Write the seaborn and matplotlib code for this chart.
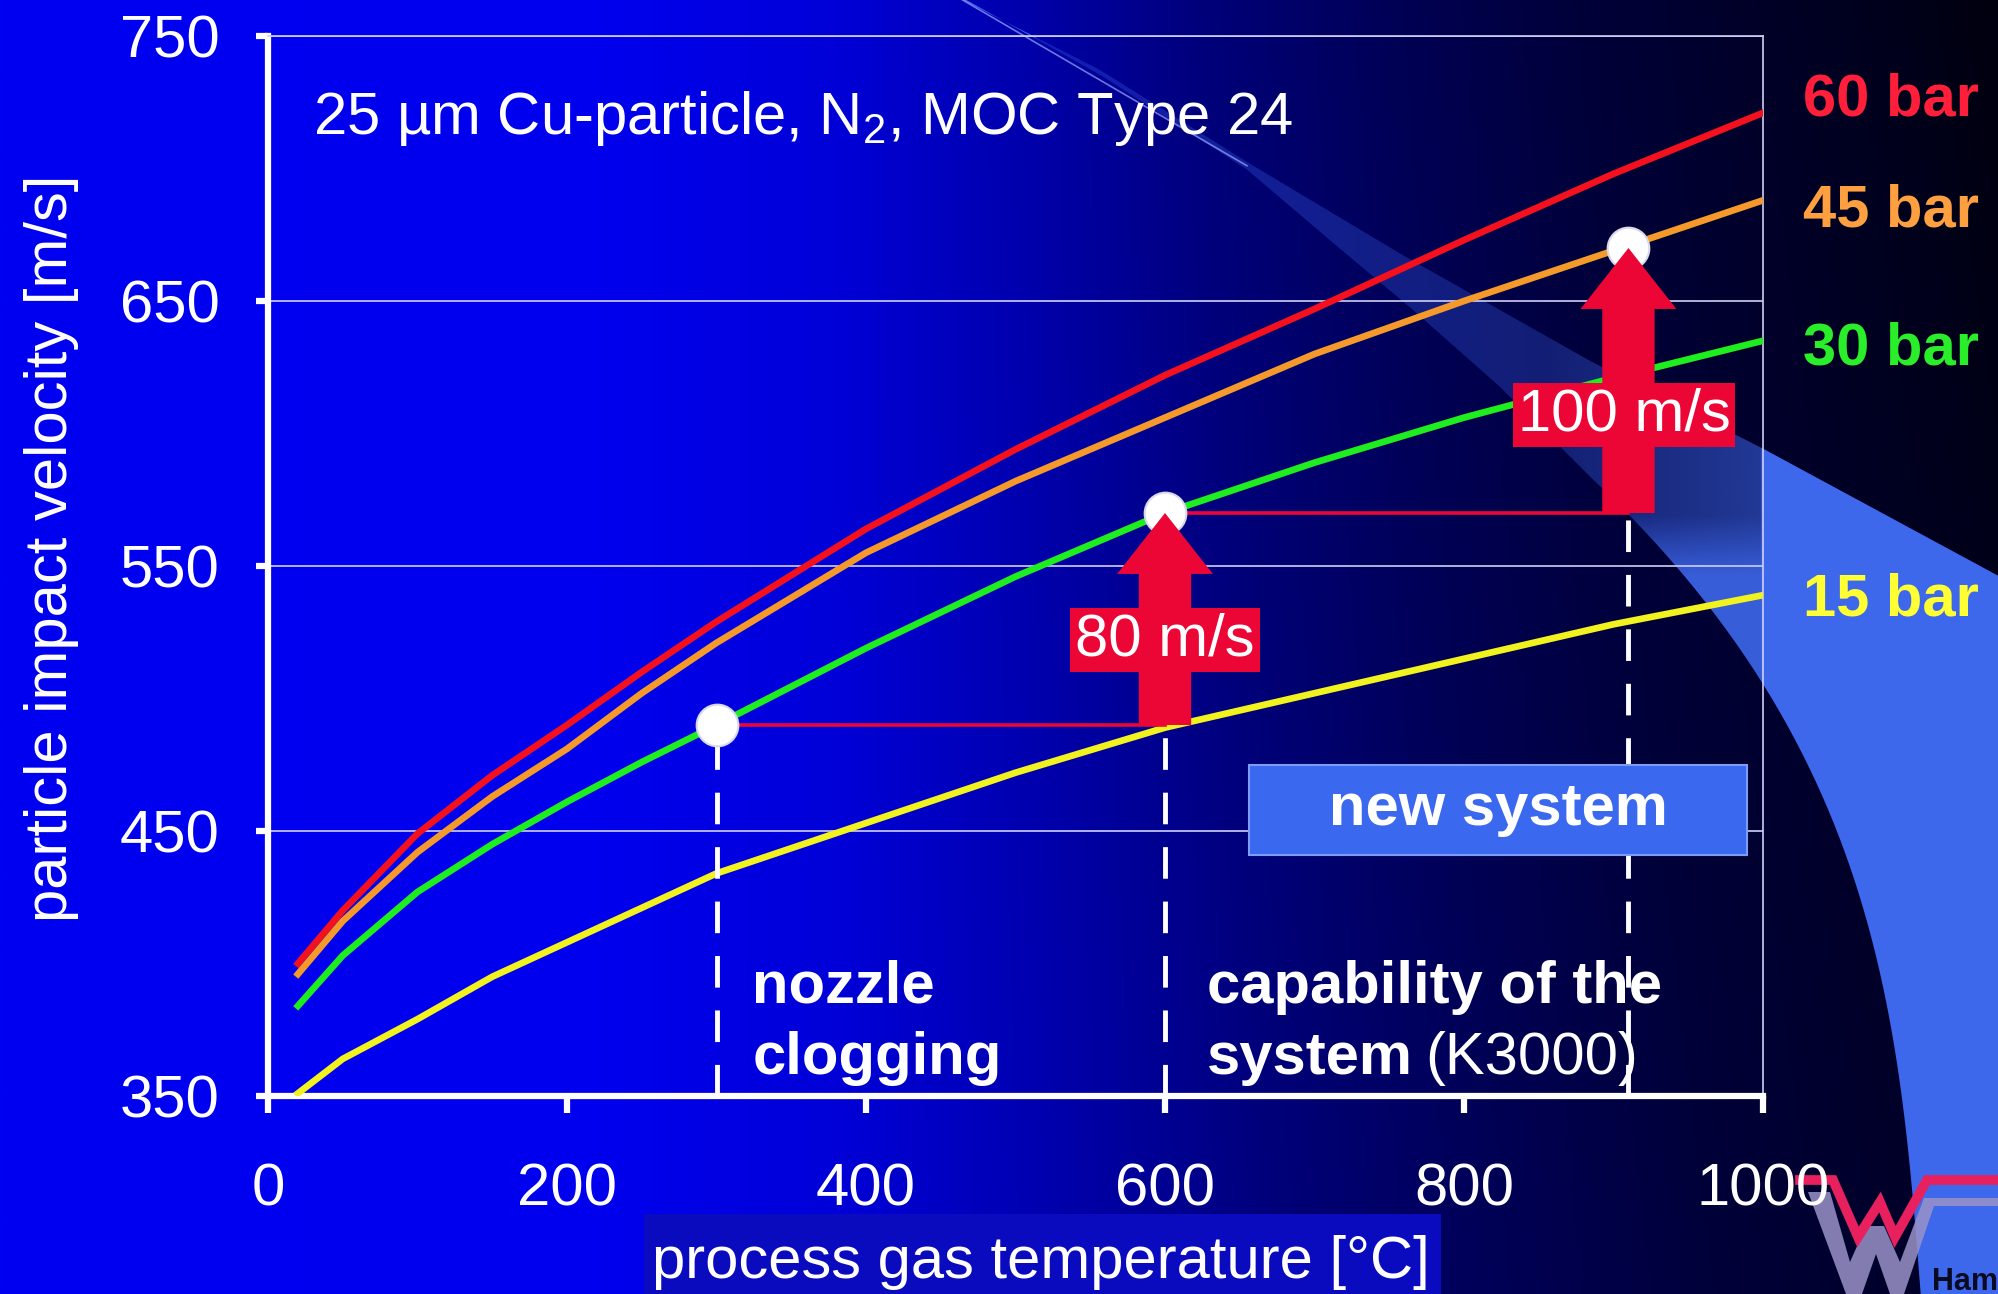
import numpy as np
import pandas as pd
import matplotlib
matplotlib.use("Agg")
import matplotlib.pyplot as plt
import seaborn as sns
from matplotlib.patches import Polygon, Rectangle, FancyArrow

# ---------------------------------------------------------------- data
temperature = [20, 50, 100, 150, 200, 250, 300, 400, 500, 600, 700, 800, 900, 1000]
v_60bar = [400, 420, 449, 471, 490, 510, 529, 564, 594, 622, 647, 673, 698, 721]
v_45bar = [396, 416, 442, 463, 481, 502, 521, 555, 582, 606, 630, 650, 669, 688]
v_30bar = [384, 403, 427, 445, 461, 476, 490, 519, 546, 570, 589, 606, 621, 635]
v_15bar = [351, 364, 379, 395, 408, 421, 434, 453, 472, 489, 502, 515, 528, 539]

pressure_labels = ["60 bar", "45 bar", "30 bar", "15 bar"]
line_colors = ["#F5101E", "#F59A2A", "#1EEE1E", "#F2F21E"]
label_colors = ["#FF1F3A", "#FFA040", "#2AEE2A", "#FFFF33"]

# operating points: nozzle clogging limit, K3000 capability, new system
op_temps = [300, 600, 910]
op_velocity = [490, 570, 670]

x_ticks = [0, 200, 400, 600, 800, 1000]
y_ticks = [350, 450, 550, 650, 750]

# ---------------------------------------------------------------- style
plt.rcParams["font.family"] = ["Liberation Sans", "DejaVu Sans"]
plt.rcParams["mathtext.default"] = "regular"
FS = 43
CRIMSON = "#EC0636"

W, H = 1999, 1294
fig = plt.figure(figsize=(W / 100, H / 100), dpi=100)

# ---------------------------------------------------------------- slide background
bg = fig.add_axes([0, 0, 1, 1], zorder=0)
bg.set_xlim(0, W)
bg.set_ylim(H, 0)
bg.axis("off")

gx = np.linspace(0, 1, 500)
gy = np.linspace(0, 1, 330)
U, V = np.meshgrid(gx, gy)
u_eff = U + 0.10 * (0.5 - V) * np.clip((U - 0.4) / 0.6, 0, 1)
blue = np.interp(u_eff, [0, 0.30, 0.42, 0.52, 0.62, 0.72, 0.82, 0.92, 1.0, 1.06],
                 [242, 238, 215, 172, 122, 86, 58, 40, 26, 12]) / 255
grad = np.dstack([np.zeros_like(blue), np.zeros_like(blue), blue])
bg.imshow(grad, extent=[0, W, H, 0], aspect="auto", zorder=0, interpolation="bilinear")

# light-blue swoosh across the right side (outline in 1568-wide layout units)
s = 1.275
upper = [(755, 0), (863, 55), (978, 127), (1100, 200), (1247, 283), (1383, 352), (1568, 452)]
lower_top = [(758, 0), (865, 60), (978, 133), (1045, 190), (1107, 242), (1176, 303),
             (1247, 375)]
# the lower boundary bends into a smooth arc down to the bottom edge
arc_y = [375, 414, 466, 537, 647, 776, 906, 1015]
arc_x = [1247, 1289, 1333, 1383, 1438, 1477, 1498, 1506]
arc_coef = np.polyfit(arc_y, arc_x, 3)
arc_yy = np.linspace(375, 1015, 60)
arc = list(zip(np.polyval(arc_coef, arc_yy), arc_yy))
lower = lower_top[:-1] + arc
swoosh_pts = [(x * s, y * s) for x, y in upper] + [(1568 * s, 1015 * s)] + \
             [(x * s, y * s) for x, y in lower[::-1]]
swoosh = Polygon(swoosh_pts, closed=True, fc="none", ec="none")
bg.add_patch(swoosh)

sx = np.linspace(0, W, 800)
sy = np.linspace(0, H, 520)
SX, SY = np.meshgrid(sx, sy)
inside = (SX > 268) & (SX < 1763) & (SY > 36) & (SY < 1096)
alpha_band = 0.30 + 0.25 * np.clip((SX - 1550) / 213.0, 0, 1)
alpha_in = alpha_band + (0.9 - alpha_band) * np.clip((SY - 515) / 60.0, 0, 1)
alpha = np.where(inside, alpha_in, 1.0)
rgba = np.dstack([np.full_like(alpha, 62 / 255), np.full_like(alpha, 104 / 255),
                  np.full_like(alpha, 236 / 255), alpha])
im = bg.imshow(rgba, extent=[0, W, H, 0], aspect="auto", zorder=1, interpolation="bilinear")
im.set_clip_path(swoosh)
bg.plot([755 * s, 978 * s], [0, 130 * s], color="#9AA8FF", lw=1.2, alpha=0.7, zorder=2)

# box behind the x-axis title
bg.add_patch(Rectangle((644, 1214), 797, 82, fc="#0A0ABF", ec="none", zorder=2))

# corner logo
bg.add_patch(Polygon([(1808, 1192), (1830, 1192), (1850, 1262), (1866, 1226), (1884, 1226),
                      (1900, 1262), (1924, 1198), (1999, 1198), (1999, 1206), (1934, 1206),
                      (1904, 1294), (1890, 1294), (1876, 1254), (1862, 1294), (1846, 1294)],
                     closed=True, fc="#9A93C8", ec="none", alpha=0.85, zorder=3))
bg.plot([1800, 1833, 1858, 1880, 1895, 1927, 1999],
        [1180, 1180, 1237, 1202, 1237, 1180, 1180],
        color="#E8205E", lw=7, solid_joinstyle="miter", zorder=4)
bg.text(1932, 1290, "Ham", fontsize=22, fontweight="bold", color="#0A0A20",
        ha="left", va="baseline", zorder=4)

# ---------------------------------------------------------------- chart
ax = fig.add_axes([268 / W, 1 - 1096 / H, (1763 - 268) / W, (1096 - 36) / H], zorder=2)
ax.patch.set_alpha(0)

df = pd.DataFrame({
    "temperature": temperature * 4,
    "velocity": v_60bar + v_45bar + v_30bar + v_15bar,
    "pressure": [p for p in pressure_labels for _ in temperature],
})
sns.lineplot(data=df, x="temperature", y="velocity", hue="pressure",
             palette=dict(zip(pressure_labels, line_colors)), hue_order=pressure_labels,
             lw=4.8, legend=False, ax=ax, estimator=None, sort=False, zorder=3)

ax.set_xlim(0, 1000)
ax.set_ylim(350, 750)
ax.set_xticks(x_ticks)
ax.set_yticks(y_ticks)
ax.set_xticklabels([str(t) for t in x_ticks])
ax.set_yticklabels([str(t) for t in y_ticks])

for side in ["left", "bottom"]:
    ax.spines[side].set_color("white")
    ax.spines[side].set_linewidth(4.5)
for side in ["top", "right"]:
    ax.spines[side].set_color("#CFCFF5")
    ax.spines[side].set_linewidth(1.2)
ax.yaxis.grid(True, color="#CFCFF5", lw=1.2, zorder=0)
ax.xaxis.grid(False)
ax.set_axisbelow(True)
ax.tick_params(axis="y", direction="out", length=9, width=4.5, color="white",
               labelcolor="white", labelsize=FS, pad=26)
ax.tick_params(axis="x", direction="out", length=12, width=4.5, color="white",
               labelcolor="white", labelsize=FS, pad=36)

ax.set_ylabel("particle impact velocity [m/s]", color="white", fontsize=FS)
ax.yaxis.label.set_va("center")
ax.yaxis.set_label_coords(-0.145, 0.517)
ax.set_xlabel("process gas temperature [°C]", color="white", fontsize=FS)
ax.xaxis.label.set_va("center")
ax.xaxis.set_label_coords(0.517, -0.157)

# title inside the plot
ax.text(30, 719, "25 µm Cu-particle, N$_2$, MOC Type 24", color="white",
        fontsize=FS, ha="left", va="center")

# pressure labels to the right of the curves
label_y = [726, 684, 632, 537]
for lab, col, yy in zip(pressure_labels, label_colors, label_y):
    ax.text(1027, yy, lab, color=col, fontsize=FS, fontweight="bold",
            ha="left", va="center", clip_on=False)

# dashed verticals from the axis to the operating points
dash_tops = [op_velocity[0], op_velocity[0], op_velocity[1]]
for t, top in zip(op_temps, dash_tops):
    ax.plot([t, t], [350, top], color="white", lw=3.5, dashes=(6.5, 4.7), zorder=4)

# red reference lines between operating points
ax.plot([op_temps[0], op_temps[1]], [op_velocity[0]] * 2, color=CRIMSON, lw=2.6, zorder=4)
ax.plot([op_temps[1], op_temps[2]], [op_velocity[1]] * 2, color=CRIMSON, lw=2.6, zorder=4)

# new system box
ax.add_patch(Rectangle((656, 441), 333, 34, fc="#3A68EE", ec="#7D9CF8", lw=1.5, zorder=5))
ax.text(823, 458, "new system", color="white", fontsize=FS, fontweight="bold",
        ha="center", va="center", zorder=6)

# operating point markers
ax.scatter(op_temps, op_velocity, s=900, color="white", edgecolor="#D8D8E8",
           linewidth=1.5, zorder=6)

# velocity gain arrows with labels
label_pos = [(600, 522), (907, 607)]
for i in range(2):
    x0 = op_temps[i + 1]
    y0, y1 = op_velocity[i], op_velocity[i + 1]
    ax.add_patch(FancyArrow(x0, y0, 0, y1 - y0, width=35, head_width=64, head_length=23,
                            length_includes_head=True, color=CRIMSON, lw=0, zorder=7))
    lx, ly = label_pos[i]
    ax.text(lx, ly, f"{y1 - y0} m/s", color="white", fontsize=FS, ha="center", va="center",
            zorder=8, bbox=dict(boxstyle="square,pad=0.08", fc=CRIMSON, ec="none"))

# annotations at the bottom of the plot
ax.text(324, 391, "nozzle", color="white", fontsize=FS, fontweight="bold",
        ha="left", va="center", zorder=6)
ax.text(324, 364, "clogging", color="white", fontsize=FS, fontweight="bold",
        ha="left", va="center", zorder=6)
ax.text(628, 391, "capability of the", color="white", fontsize=FS, fontweight="bold",
        ha="left", va="center", zorder=2)
ax.text(628, 364, "system", color="white", fontsize=FS, fontweight="bold",
        ha="left", va="center", zorder=2)
ax.text(774, 364, "(K3000)", color="white", fontsize=FS,
        ha="left", va="center", zorder=2)

fig.savefig("out.png", dpi=100)
